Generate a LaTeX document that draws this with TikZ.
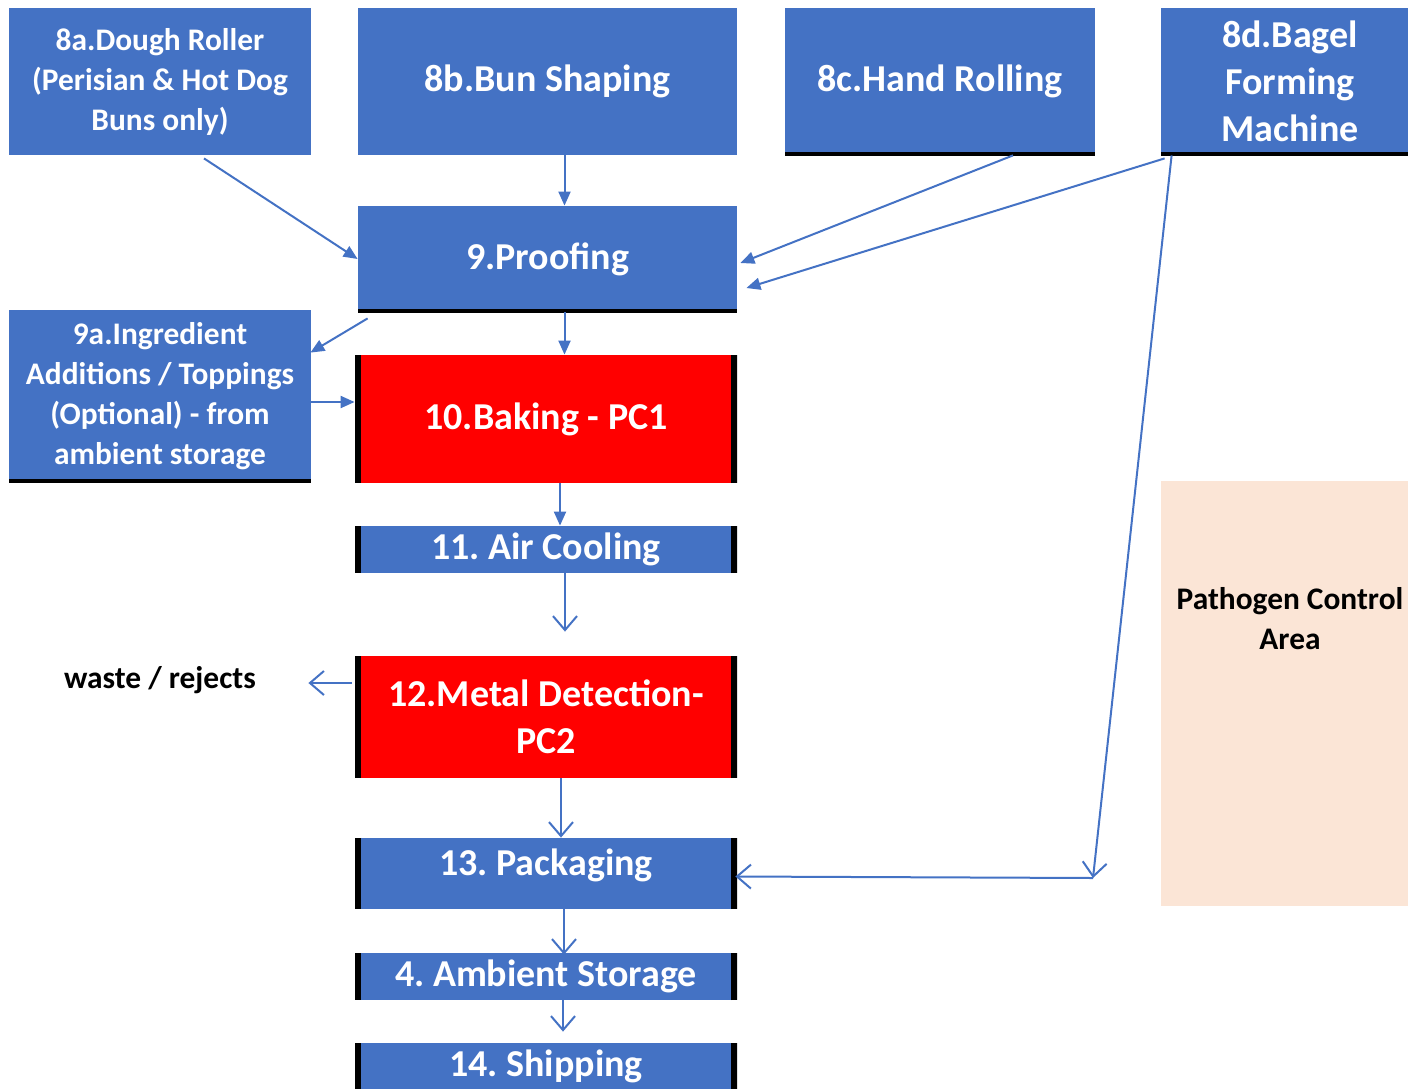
\documentclass[tikz,border=0pt]{standalone}
\usepackage{fontspec}
\setmainfont{Carlito}
\usetikzlibrary{arrows.meta,calc}
\frenchspacing

\definecolor{stepblue}{HTML}{4472C4}
\definecolor{ccpred}{HTML}{FF0000}
\definecolor{zonepeach}{HTML}{FBE5D6}

\tikzset{
  stepbox/.style={rectangle, fill=stepblue, text=white, align=center, inner sep=0pt,
    font=\bfseries\fontsize{19}{23.5}\selectfont},
  smalltext/.style={font=\bfseries\fontsize{15.7}{20}\selectfont},
  ccpbox/.style={stepbox, fill=ccpred},
  sidebars/.style={path picture={
      \draw[black, line width=6pt] (path picture bounding box.south west) -- (path picture bounding box.north west);
      \draw[black, line width=6pt] (path picture bounding box.south east) -- (path picture bounding box.north east);}},
  underbar/.style={path picture={
      \draw[black, line width=3pt] (path picture bounding box.south west) -- (path picture bounding box.south east);}},
  flow/.style={draw=stepblue, line width=1pt, -{Triangle[length=7pt,width=6pt]}},
  flowopen/.style={draw=stepblue, line width=1pt, -{Straight Barb[length=7pt,width=12pt]}},
}

\begin{document}
\begin{tikzpicture}[x=0.5pt, y=-0.5pt]
  \useasboundingbox (0,0) rectangle (1408,1088);

  % Forming steps along the top
  \node[stepbox, smalltext, minimum width=151pt, minimum height=73.5pt] (dough) at (160,81.5) {8a.Dough Roller\\(Perisian \& Hot Dog\\Buns only)};
  \node[stepbox, minimum width=189.5pt, minimum height=73.5pt] (bun) at (547.5,81.5) {8b.Bun Shaping};
  \node[stepbox, underbar, minimum width=155pt, minimum height=73.5pt] (hand) at (940,81.5) {8c.Hand Rolling};
  \node[stepbox, underbar, minimum width=129pt, minimum height=73.5pt] (bagel) at (1290,81.5) {8d.Bagel\\Forming\\Machine};

  % Main process line
  \node[stepbox, underbar, minimum width=189.5pt, minimum height=53pt] (proof) at (547.5,259) {9.Proofing};
  \node[stepbox, smalltext, underbar, minimum width=151pt, minimum height=86pt] (topping) at (160,396) {9a.Ingredient\\Additions / Toppings\\(Optional) - from\\ambient storage};
  \node[ccpbox, sidebars, minimum width=191pt, minimum height=64pt] (bake) at (546,419) {10.Baking - PC1};
  \node[stepbox, sidebars, minimum width=191pt, minimum height=23.5pt] (cool) at (546,549.5) {11. Air Cooling};
  \node[ccpbox, sidebars, minimum width=191pt, minimum height=61pt] (metal) at (546,717) {12.Metal Detection-\\PC2};
  \node[stepbox, sidebars, minimum width=191pt, text height=18.5pt, text depth=17pt] (pack) at (546,873.5) {13. Packaging};
  \node[stepbox, sidebars, minimum width=191pt, minimum height=23.5pt] (store) at (546,976.5) {4. Ambient Storage};
  \node[stepbox, sidebars, minimum width=191pt, minimum height=23.5pt] (ship) at (546,1066.5) {14. Shipping};

  % Side labels
  \node[smalltext, minimum width=148pt] (waste) at (160,680) {waste / rejects};
  \node[fill=zonepeach, inner sep=0pt, minimum width=129pt, minimum height=212.5pt] (zone) at (1290,693.5) {};
  \node[smalltext, align=center] (zonetext) at (1290,619) {Pathogen Control\\Area};

  \coordinate (turn) at (1093,878);

  % Arrows into proofing
  \draw[flow] ($(dough.south)+(44,3)$) -- (proof.west);
  \draw[flow] ($(bun.south)+(17,0)$) -- ($(proof.north)+(17,0)$);
  \draw[flow] ($(hand.south)+(73,0)$) -- ($(proof.east)+(3,4)$);
  \draw[flow] ($(bagel.south west)+(4,3)$) -- ($(proof.east)+(9,29)$);
  % Bagels go round to packaging
  \draw[flowopen] ($(bagel.south west)+(11,0)$) -- (turn);
  \draw[flowopen] (turn) -- ($(pack.east)+(-2,3)$);

  % Down the line
  \draw[flow] ($(proof.south west)+(10,6)$) -- ($(topping.north east)+(-1,43)$);
  \draw[flow] ($(proof.south)+(17,0)$) coordinate (pdown) -- (pdown |- bake.north);
  \draw[flow] ($(topping.east)+(0,6)$) coordinate (addin) -- (addin -| bake.west);
  \draw[flow] ($(bake.south)+(14,0)$) -- ($(cool.north)+(14,0)$);
  \draw[flowopen] ($(cool.south)+(19,0)$) -- ($(metal.north)+(19,-24)$);
  \draw[flowopen] ($(metal.west)+(-3,-34)$) coordinate (reject) -- (reject -| waste.east);
  \draw[flowopen] ($(metal.south)+(15,0)$) -- ($(pack.north)+(15,0)$);
  \draw[flowopen] ($(pack.south)+(18,0)$) -- ($(store.north)+(18,2)$);
  \draw[flowopen] ($(store.south)+(17,0)$) -- ($(ship.north)+(17,-11)$);
\end{tikzpicture}
\end{document}
